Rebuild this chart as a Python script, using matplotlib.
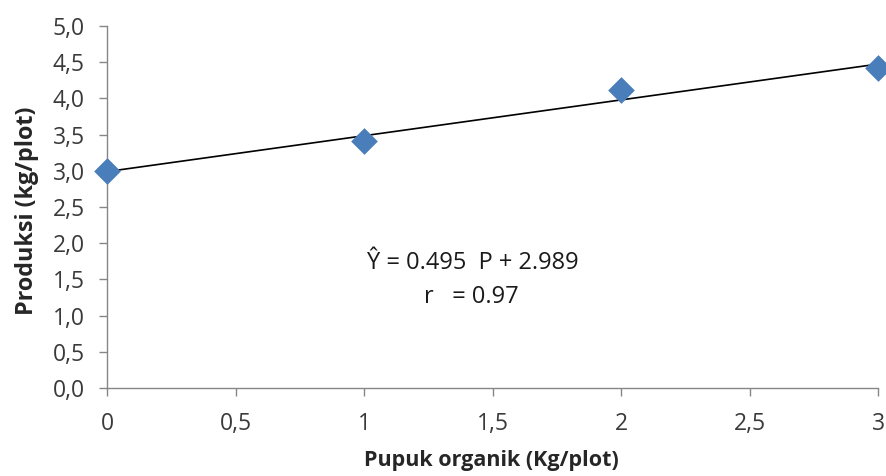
import matplotlib
matplotlib.use("Agg")
import matplotlib.pyplot as plt
import numpy as np

# Data
dose = [0, 1, 2, 3]
production = [3.00, 3.41, 4.12, 4.42]
slope = 0.495
intercept = 2.989
x_ticks = [0, 0.5, 1, 1.5, 2, 2.5, 3]
x_labels = ["0", "0,5", "1", "1,5", "2", "2,5", "3"]
y_ticks = [0, 0.5, 1, 1.5, 2, 2.5, 3, 3.5, 4, 4.5, 5]
y_labels = ["0,0", "0,5", "1,0", "1,5", "2,0", "2,5", "3,0", "3,5", "4,0", "4,5", "5,0"]

plt.rcParams['font.family'] = ['Open Sans', 'DejaVu Sans']

fig = plt.figure(figsize=(8.86, 4.76), dpi=100)
ax = fig.add_axes([0.1208, 0.1849, 0.8702, 0.7605])

xs = np.array([min(dose), max(dose)])
ax.plot(xs, slope * xs + intercept, color='black', lw=1.2, zorder=2)
ax.scatter(dose, production, marker='D', s=185, color='#4a7ebb', zorder=3, clip_on=False, linewidths=0)

ax.set_xlim(0, 3)
ax.set_ylim(0, 5)
ax.set_xticks(x_ticks)
ax.set_xticklabels(x_labels)
ax.set_yticks(y_ticks)
ax.set_yticklabels(y_labels)

for s in ['top', 'right']:
    ax.spines[s].set_visible(False)
for s in ['left', 'bottom']:
    ax.spines[s].set_color('#868686')
    ax.spines[s].set_linewidth(1.0)
ax.tick_params(axis='both', colors='#868686', length=6, width=1.0, labelsize=16.5, labelcolor='#3a3a3a')
ax.tick_params(axis='x', pad=11)
ax.tick_params(axis='y', pad=10)

ax.set_xlabel('Pupuk organik (Kg/plot)', fontsize=15.5, fontweight='bold', color='#262626')
ax.set_ylabel('Produksi (kg/plot)', fontsize=16.8, fontweight='bold', color='#262626')
ax.xaxis.set_label_coords(0.498, -0.172)
ax.yaxis.set_label_coords(-0.088, 0.489)

ax.text(0.475, 0.344, 'Ŷ = 0.495  P + 2.989', transform=ax.transAxes, ha='center', va='center', fontsize=17, color='#1a1a1a')
ax.text(0.473, 0.25, 'r   = 0.97', transform=ax.transAxes, ha='center', va='center', fontsize=17, color='#1a1a1a')

fig.savefig('out.png', dpi=100)
